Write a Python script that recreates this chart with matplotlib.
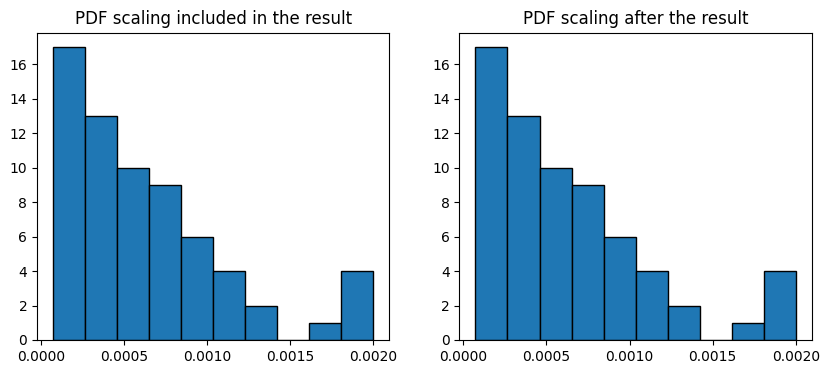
import numpy as np
import matplotlib.pyplot as plt

# histogram counts (same for both panels)
counts = [17, 13, 10, 9, 6, 4, 2, 0, 1, 4]
x_min = 0.000073
x_max = 0.0020
titles = ['PDF scaling included in the result', 'PDF scaling after the result']

edges = np.linspace(x_min, x_max, len(counts) + 1)
centers = (edges[:-1] + edges[1:]) / 2

fig, axes = plt.subplots(1, 2, figsize=(8.3, 3.74), dpi=100)
fig.subplots_adjust(left=0.0446, right=0.978, bottom=0.091, top=0.913, wspace=0.199)

for ax, title in zip(axes, titles):
    ax.hist(centers, bins=edges, weights=counts, color='#1f77b4', edgecolor='black')
    ax.set_title(title)
    ax.set_xticks([0.0, 0.0005, 0.0010, 0.0015, 0.0020])
    ax.set_xticklabels(['0.0000', '0.0005', '0.0010', '0.0015', '0.0020'])

plt.savefig('out.png')
